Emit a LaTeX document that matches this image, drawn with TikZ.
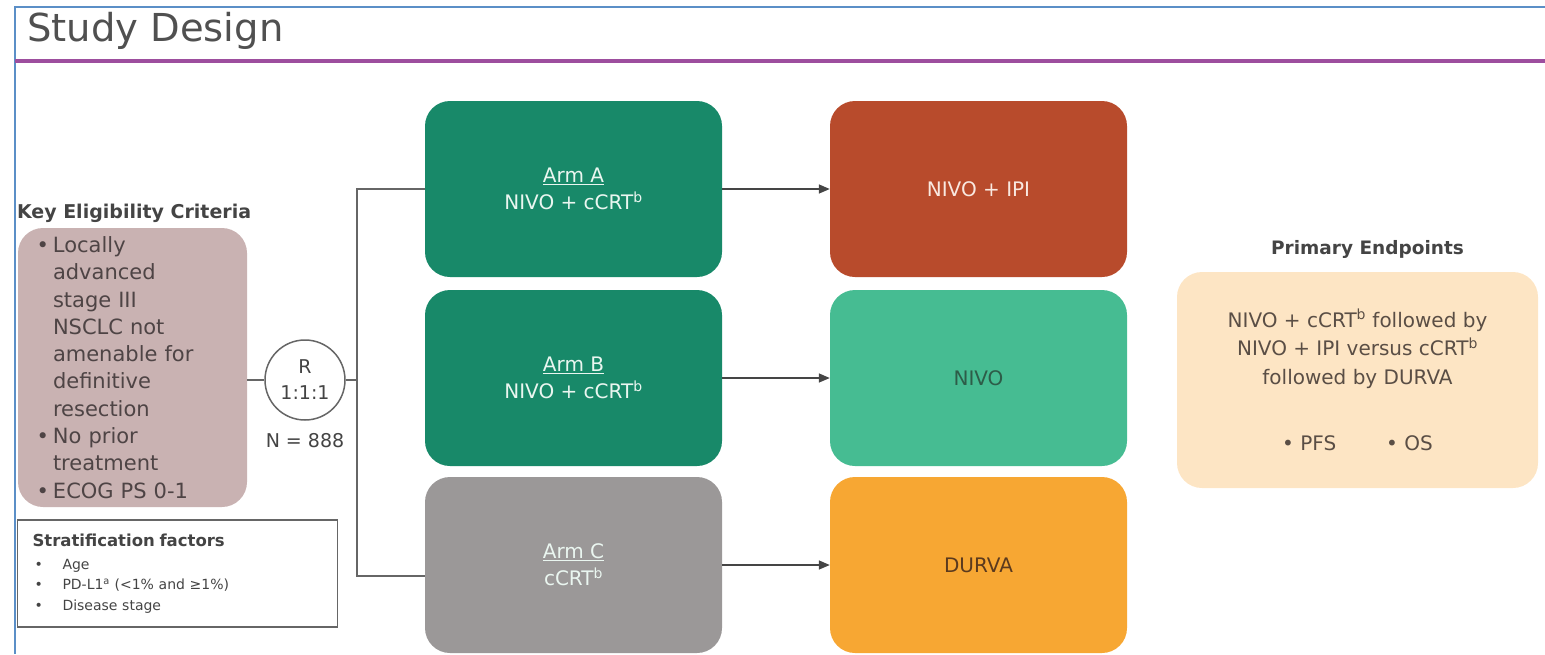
\documentclass[tikz,border=0pt]{standalone}
\usepackage{fontspec}
\setmainfont{DejaVu Sans}
\usetikzlibrary{positioning, arrows.meta}

\definecolor{frameblue}{HTML}{5B8FC7}
\definecolor{rulepurple}{HTML}{9D4E9E}
\definecolor{titlegray}{HTML}{505050}
\definecolor{labelgray}{HTML}{444444}
\definecolor{linegray}{HTML}{666666}
\definecolor{arrowgray}{HTML}{454545}
\definecolor{eligpink}{HTML}{C9B2B2}
\definecolor{eligtext}{HTML}{4E4445}
\definecolor{armgreen}{HTML}{188969}
\definecolor{armgray}{HTML}{9B9898}
\definecolor{armtext}{HTML}{EAF6F0}
\definecolor{iprust}{HTML}{B84B2C}
\definecolor{iptext}{HTML}{F9E8E0}
\definecolor{nivogreen}{HTML}{46BC92}
\definecolor{nivotext}{HTML}{2D5C48}
\definecolor{durvaorange}{HTML}{F7A733}
\definecolor{durvatext}{HTML}{5B3A1E}
\definecolor{endpeach}{HTML}{FDE5C4}
\definecolor{endtext}{HTML}{5A4E45}

\newcommand{\eligbullet}{\leavevmode\llap{•\hspace{4pt}}}

\begin{document}
\begin{tikzpicture}[
        x=1pt, y=-1pt,
        box/.style={rounded corners=25pt, minimum width=297pt, minimum height=176pt, inner sep=0pt, align=center, font=\fontsize{20}{27}\selectfont},
        arm/.style={box, fill=armgreen, text=armtext},
        link/.style={draw=linegray, line width=1.5pt},
        flow/.style={draw=arrowgray, line width=1.5pt, -{Triangle[length=11pt, width=9pt]}},
    ]
    \useasboundingbox (0,0) rectangle (1545,654);

    % slide frame and title
    \draw[frameblue, line width=1.5pt] (15,654) -- (15,7) -- (1545,7);
    \draw[rulepurple, line width=3.5pt] (15,61) -- (1545,61);
    \node[anchor=base west, inner sep=0pt, text=titlegray, font=\fontsize{38.5}{42}\selectfont] (title) at (27,41) {Study Design};

    % eligibility and stratification
    \node[fill=eligpink, rounded corners=25pt, minimum height=279pt, text width=159pt, inner xsep=35pt, inner ysep=0pt, align=left, text=eligtext, font=\fontsize{21}{27.3}\selectfont] (elig) at (132.5,367.5) {%
        \eligbullet Locally\\ advanced\\ stage III\\ NSCLC not\\ amenable for\\ definitive\\ resection\\
        \eligbullet No prior\\ treatment\\
        \eligbullet ECOG PS 0-1};
    \node[above right=5pt and -1pt of elig.north west, inner sep=0pt, text=labelgray, font=\bfseries\fontsize{19}{22}\selectfont] (eliglabel) {Key Eligibility Criteria};

    \node[draw=linegray, line width=1.5pt, minimum width=319pt, minimum height=107pt, text width=290pt, inner xsep=15pt, align=left, text=labelgray, font=\fontsize{14}{20.5}\selectfont] (strat) at (177.5,573.5) {%
        {\bfseries\fontsize{16.5}{20}\selectfont Stratification factors}\\[2pt]
        \makebox[30pt][l]{\hspace{2pt}•}Age\\
        \makebox[30pt][l]{\hspace{2pt}•}PD-L1\textsuperscript{a} (<1\% and ≥1\%)\\
        \makebox[30pt][l]{\hspace{2pt}•}Disease stage};

    % randomisation
    \node[circle, draw=linegray, line width=1.5pt, minimum size=80pt, inner sep=0pt, align=center, text=labelgray, font=\fontsize{19}{26}\selectfont] (rand) at (305,380) {R\\1:1:1};
    \node[below=12pt of rand, inner sep=0pt, text=labelgray, font=\fontsize{19}{22}\selectfont] (ntotal) {N = 888};
    \coordinate (split) at (357,380);

    % arms
    \node[arm] (armA) at (573.5,189) {\underline{Arm A}\\NIVO + cCRT\textsuperscript{b}};
    \node[arm] (armB) at (573.5,378) {\underline{Arm B}\\NIVO + cCRT\textsuperscript{b}};
    \node[box, fill=armgray, text=armtext] (armC) at (573.5,565) {\underline{Arm C}\\cCRT\textsuperscript{b}};

    % maintenance
    \node[box, fill=iprust, text=iptext] (ipi) at (978.5,189) {NIVO + IPI};
    \node[box, fill=nivogreen, text=nivotext] (nivo) at (978.5,378) {NIVO};
    \node[box, fill=durvaorange, text=durvatext] (durva) at (978.5,565) {DURVA};

    % endpoints
    \node[box, fill=endpeach, text=endtext, minimum width=361pt, minimum height=216pt, font=\fontsize{20}{28.5}\selectfont] (endp) at (1357.5,380) {%
        NIVO + cCRT\textsuperscript{b} followed by\\
        NIVO + IPI versus cCRT\textsuperscript{b}\\
        followed by DURVA\\[38pt]
        • PFS\hspace{50pt}• OS};
    \node[above=13pt of endp, xshift=10pt, inner sep=0pt, text=labelgray, font=\bfseries\fontsize{18.5}{22}\selectfont] (endlabel) {Primary Endpoints};

    \draw[link] (elig.east |- rand.west) -- (rand.west);
    \draw[link] (rand.east) -- (split);
    \draw[link] (armA.west) -| (split) |- ([yshift=-11pt]armC.west);

    \draw[flow] (armA) -- (ipi);
    \draw[flow] (armB) -- (nivo);
    \draw[flow] (armC) -- (durva);
\end{tikzpicture}
\end{document}
